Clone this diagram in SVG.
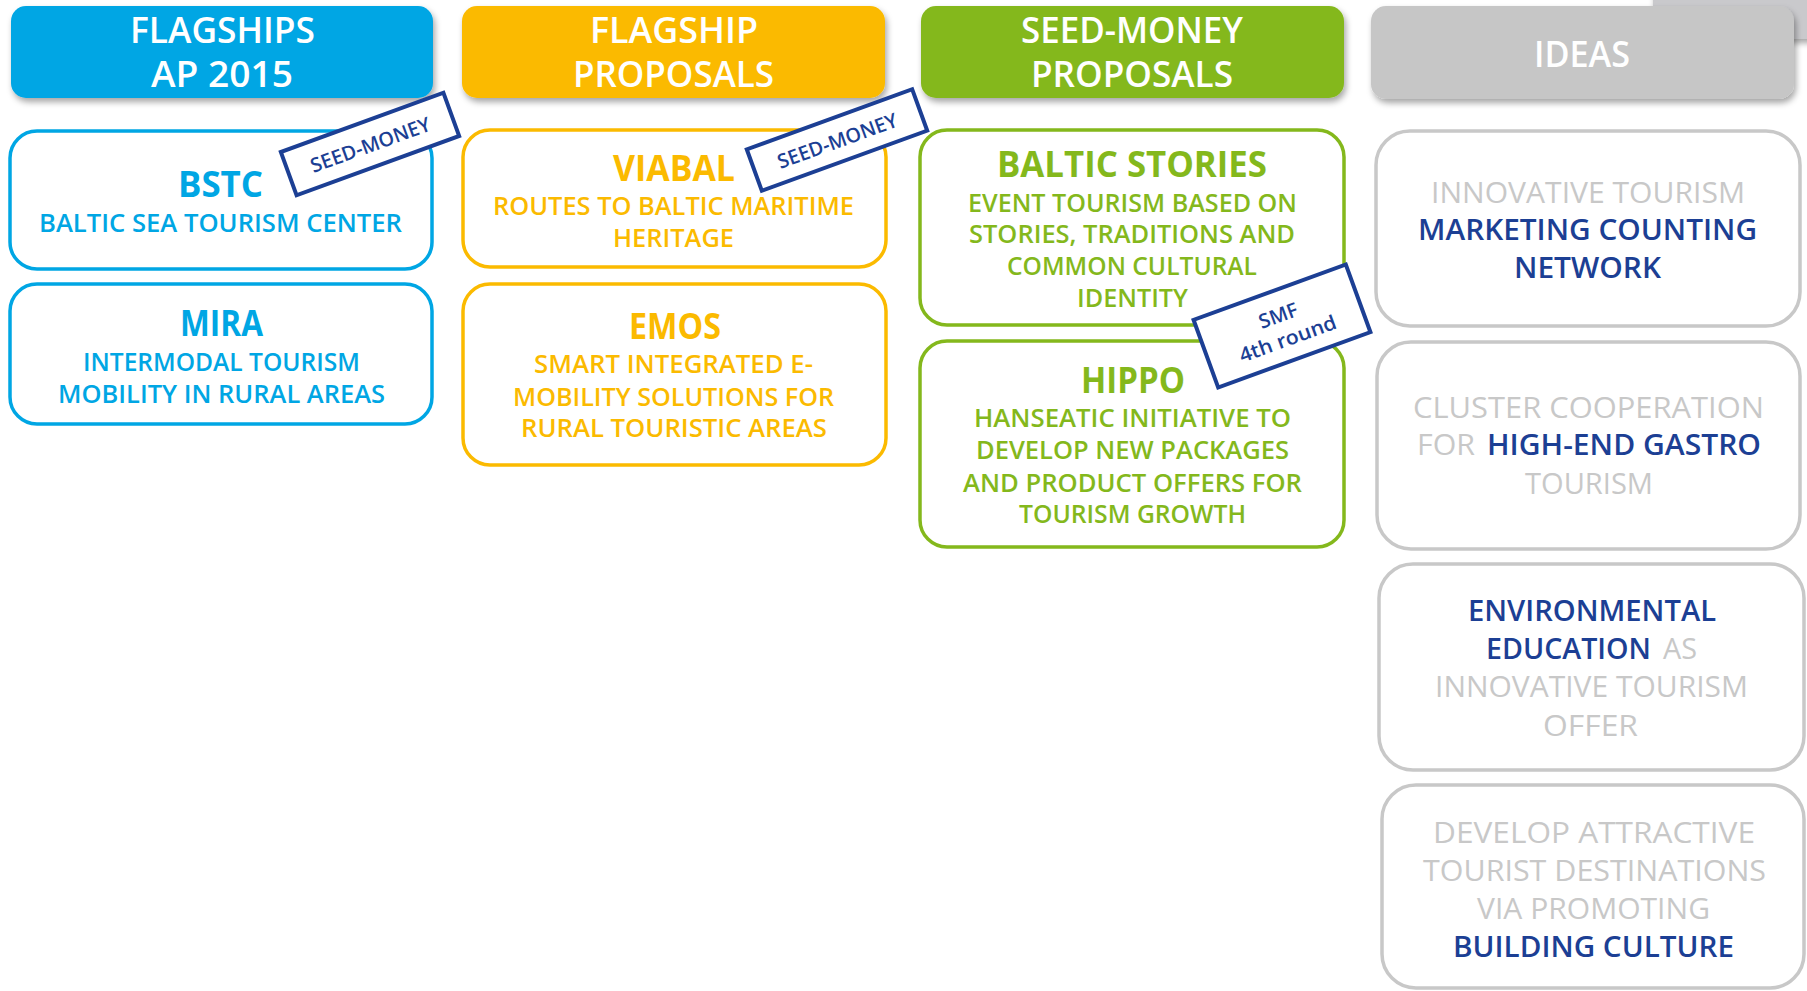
<svg xmlns="http://www.w3.org/2000/svg" width="1807" height="991" viewBox="0 0 1807 991">
<defs>
<filter id="sh" x="-10%" y="-20%" width="125%" height="150%">
<feDropShadow dx="2" dy="4" stdDeviation="3" flood-color="#000" flood-opacity="0.35"/>
</filter>
<style>
text{font-family:"Open Sans","Liberation Sans",sans-serif;}
.hd{fill:#fff;font-size:36px;font-weight:600;text-anchor:middle;}
.tt{font-size:35px;font-weight:700;text-anchor:middle;}
.st{font-size:25px;font-weight:600;text-anchor:middle;}
.gt{font-size:29px;font-weight:400;fill:#c8c8c8;}
.nv{font-size:29px;font-weight:600;fill:#1c3f94;}
.c{text-anchor:middle;}
.box{fill:#fff;stroke-width:3.5;}
.blue{stroke:#00a6e4;} .bluet{fill:#00a6e4;}
.yel{stroke:#fbba00;} .yelt{fill:#fbba00;}
.grn{stroke:#84b81c;} .grnt{fill:#84b81c;}
.gry{stroke:#c8c8c8;}
.badge{fill:#fff;stroke:#1c3f94;stroke-width:4;}
.bt{fill:#1c3f94;font-size:20px;font-weight:600;text-anchor:middle;}
</style>
</defs>
<rect width="1807" height="991" fill="#fff"/>

<g id="header-back">
<rect x="1653" y="-30" width="180" height="69" fill="#c9c9cc" filter="url(#sh)"/>
</g>

<g id="header-flagships">
<rect x="11" y="6" width="422" height="92" rx="15" fill="#00a6e4" filter="url(#sh)"/>
<text class="hd" x="222.5" y="43" textLength="185" lengthAdjust="spacingAndGlyphs">FLAGSHIPS</text>
<text class="hd" x="222" y="87" textLength="142" lengthAdjust="spacingAndGlyphs">AP 2015</text>
</g>
<g id="header-flagship-proposals">
<rect x="462" y="6" width="423" height="92" rx="15" fill="#fbba00" filter="url(#sh)"/>
<text class="hd" x="674" y="43" textLength="168" lengthAdjust="spacingAndGlyphs">FLAGSHIP</text>
<text class="hd" x="673.5" y="87" textLength="201" lengthAdjust="spacingAndGlyphs">PROPOSALS</text>
</g>
<g id="header-seed-money">
<rect x="921" y="6" width="423" height="92" rx="15" fill="#84b81c" filter="url(#sh)"/>
<text class="hd" x="1132" y="43" textLength="222" lengthAdjust="spacingAndGlyphs">SEED-MONEY</text>
<text class="hd" x="1132" y="87" textLength="202" lengthAdjust="spacingAndGlyphs">PROPOSALS</text>
</g>
<g id="header-ideas">
<rect x="1371" y="6" width="423" height="93" rx="15" fill="#c6c6c6" filter="url(#sh)"/>
<text class="hd" x="1582" y="67" textLength="96" lengthAdjust="spacingAndGlyphs">IDEAS</text>
</g>

<g id="node-bstc">
<rect class="box blue" x="10" y="131" width="422" height="138" rx="27"/>
<text class="tt bluet" x="220.5" y="197" textLength="85" lengthAdjust="spacingAndGlyphs">BSTC</text>
<text class="st bluet" x="220.5" y="232" textLength="363" lengthAdjust="spacingAndGlyphs">BALTIC SEA TOURISM CENTER</text>
</g>
<g id="node-mira">
<rect class="box blue" x="10" y="284" width="422" height="140" rx="27"/>
<text class="tt bluet" x="221.5" y="336" textLength="83" lengthAdjust="spacingAndGlyphs">MIRA</text>
<text class="st bluet" x="221.5" y="371" textLength="277" lengthAdjust="spacingAndGlyphs">INTERMODAL TOURISM</text>
<text class="st bluet" x="221.5" y="403" textLength="327" lengthAdjust="spacingAndGlyphs">MOBILITY IN RURAL AREAS</text>
</g>

<g id="node-viabal">
<rect class="box yel" x="463" y="130" width="423" height="137" rx="27"/>
<text class="tt yelt" x="674" y="181" textLength="122" lengthAdjust="spacingAndGlyphs">VIABAL</text>
<text class="st yelt" x="673.5" y="215" textLength="361" lengthAdjust="spacingAndGlyphs">ROUTES TO BALTIC MARITIME</text>
<text class="st yelt" x="673.5" y="247" textLength="121" lengthAdjust="spacingAndGlyphs">HERITAGE</text>
</g>
<g id="node-emos">
<rect class="box yel" x="463" y="284" width="423" height="181" rx="27"/>
<text class="tt yelt" x="675" y="339" textLength="92" lengthAdjust="spacingAndGlyphs">EMOS</text>
<text class="st yelt" x="673.5" y="373" textLength="279" lengthAdjust="spacingAndGlyphs">SMART INTEGRATED E-</text>
<text class="st yelt" x="673.5" y="406" textLength="321" lengthAdjust="spacingAndGlyphs">MOBILITY SOLUTIONS FOR</text>
<text class="st yelt" x="674" y="437" textLength="306" lengthAdjust="spacingAndGlyphs">RURAL TOURISTIC AREAS</text>
</g>

<g id="node-baltic-stories">
<rect class="box grn" x="920" y="130" width="424" height="195" rx="27"/>
<text class="tt grnt" x="1132" y="177" textLength="270" lengthAdjust="spacingAndGlyphs">BALTIC STORIES</text>
<text class="st grnt" x="1132.5" y="212" textLength="329" lengthAdjust="spacingAndGlyphs">EVENT TOURISM BASED ON</text>
<text class="st grnt" x="1132" y="243" textLength="326" lengthAdjust="spacingAndGlyphs">STORIES, TRADITIONS AND</text>
<text class="st grnt" x="1132" y="275" textLength="250" lengthAdjust="spacingAndGlyphs">COMMON CULTURAL</text>
<text class="st grnt" x="1132.5" y="307" textLength="111" lengthAdjust="spacingAndGlyphs">IDENTITY</text>
</g>
<g id="node-hippo">
<rect class="box grn" x="920" y="341" width="424" height="206" rx="27"/>
<text class="tt grnt" x="1133" y="393" textLength="104" lengthAdjust="spacingAndGlyphs">HIPPO</text>
<text class="st grnt" x="1132.5" y="427" textLength="317" lengthAdjust="spacingAndGlyphs">HANSEATIC INITIATIVE TO</text>
<text class="st grnt" x="1132.5" y="459" textLength="313" lengthAdjust="spacingAndGlyphs">DEVELOP NEW PACKAGES</text>
<text class="st grnt" x="1132.5" y="492" textLength="339" lengthAdjust="spacingAndGlyphs">AND PRODUCT OFFERS FOR</text>
<text class="st grnt" x="1132.5" y="523" textLength="227" lengthAdjust="spacingAndGlyphs">TOURISM GROWTH</text>
</g>

<g id="idea-marketing">
<rect class="box gry" x="1376" y="131" width="424" height="195" rx="34"/>
<text class="gt c" x="1588" y="203" textLength="314" lengthAdjust="spacingAndGlyphs">INNOVATIVE TOURISM</text>
<text class="nv c" x="1587.5" y="240" textLength="339" lengthAdjust="spacingAndGlyphs">MARKETING COUNTING</text>
<text class="nv c" x="1587.5" y="278" textLength="147" lengthAdjust="spacingAndGlyphs">NETWORK</text>
</g>
<g id="idea-gastro">
<rect class="box gry" x="1377" y="342" width="423" height="207" rx="34"/>
<text class="gt c" x="1588.5" y="418" textLength="351" lengthAdjust="spacingAndGlyphs">CLUSTER COOPERATION</text>
<text class="gt" x="1417" y="455" textLength="58" lengthAdjust="spacingAndGlyphs">FOR</text>
<text class="nv" x="1487" y="455" textLength="274" lengthAdjust="spacingAndGlyphs">HIGH-END GASTRO</text>
<text class="gt c" x="1589" y="494" textLength="128" lengthAdjust="spacingAndGlyphs">TOURISM</text>
</g>
<g id="idea-environmental">
<rect class="box gry" x="1379" y="564" width="425" height="206" rx="34"/>
<text class="nv c" x="1592" y="621" textLength="248" lengthAdjust="spacingAndGlyphs">ENVIRONMENTAL</text>
<text class="nv" x="1486" y="659" textLength="165" lengthAdjust="spacingAndGlyphs">EDUCATION</text>
<text class="gt" x="1663" y="659" textLength="34" lengthAdjust="spacingAndGlyphs">AS</text>
<text class="gt c" x="1591.5" y="697" textLength="313" lengthAdjust="spacingAndGlyphs">INNOVATIVE TOURISM</text>
<text class="gt c" x="1590.5" y="736" textLength="95" lengthAdjust="spacingAndGlyphs">OFFER</text>
</g>
<g id="idea-building-culture">
<rect class="box gry" x="1382" y="785" width="422" height="203" rx="34"/>
<text class="gt c" x="1594" y="843" textLength="322" lengthAdjust="spacingAndGlyphs">DEVELOP ATTRACTIVE</text>
<text class="gt c" x="1594.5" y="881" textLength="343" lengthAdjust="spacingAndGlyphs">TOURIST DESTINATIONS</text>
<text class="gt c" x="1593.5" y="919" textLength="233" lengthAdjust="spacingAndGlyphs">VIA PROMOTING</text>
<text class="nv c" x="1593.5" y="957" textLength="281" lengthAdjust="spacingAndGlyphs">BUILDING CULTURE</text>
</g>

<g id="connectors"></g>

<g id="badge-bstc" transform="translate(370,144) rotate(-20)">
<rect class="badge" x="-86.5" y="-23" width="173" height="46"/>
<text class="bt" x="0" y="8" textLength="126" lengthAdjust="spacingAndGlyphs">SEED-MONEY</text>
</g>
<g id="badge-viabal" transform="translate(837,140) rotate(-20)">
<rect class="badge" x="-88" y="-22" width="176" height="44"/>
<text class="bt" x="0" y="8" textLength="126" lengthAdjust="spacingAndGlyphs">SEED-MONEY</text>
</g>
<g id="badge-smf" transform="translate(1282,326) rotate(-20)">
<rect class="badge" x="-81" y="-36" width="162" height="72"/>
<text class="bt" x="0" y="-4">SMF</text>
<text class="bt" x="1" y="21" textLength="102" lengthAdjust="spacingAndGlyphs">4th round</text>
</g>
</svg>
